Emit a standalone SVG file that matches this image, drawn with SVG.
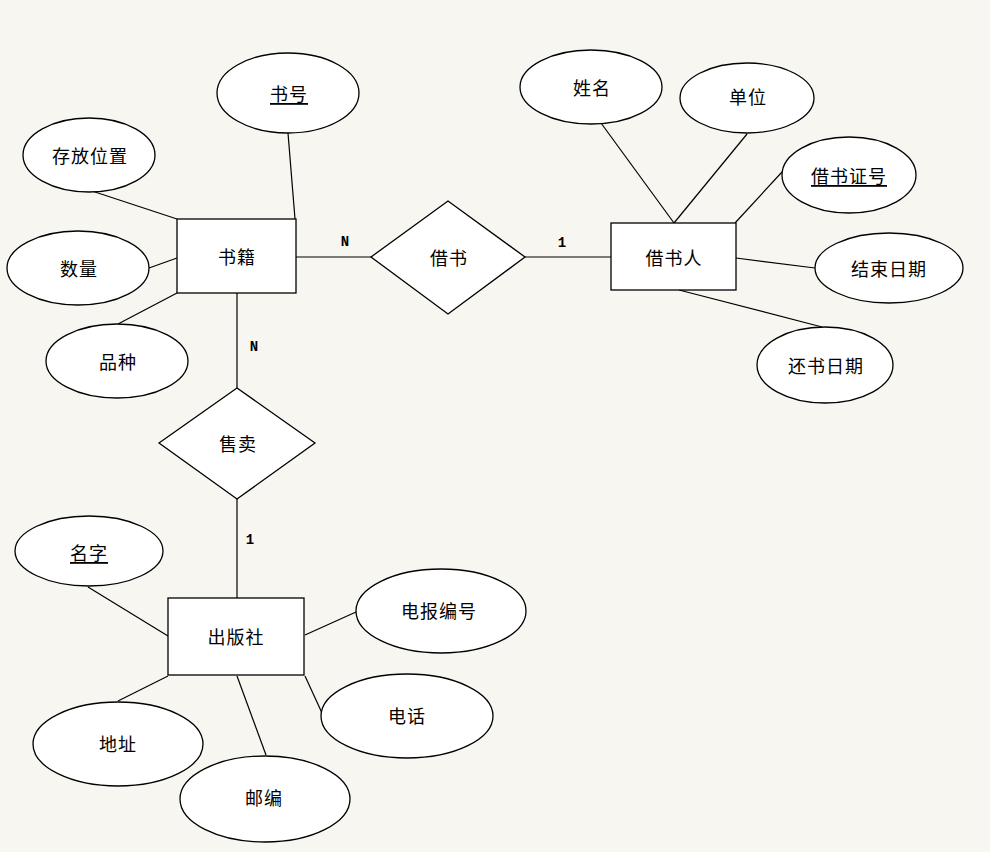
<svg xmlns="http://www.w3.org/2000/svg" width="990" height="852" viewBox="0 0 990 852">
<style>
.bg{fill:#f8f6f0}
.sh{fill:#ffffff;stroke:#000;stroke-width:1.3}
.ln{stroke:#000;stroke-width:1.2;fill:none}
.t{font-family:"Noto Sans CJK SC","Noto Sans",sans-serif;font-size:18px;letter-spacing:1px;fill:#000;text-anchor:middle;dominant-baseline:central}
.u{text-decoration:underline}
.c{font-family:"Liberation Mono",monospace;font-size:14px;font-weight:bold;fill:#000;text-anchor:middle;dominant-baseline:central}
</style>
<rect class="bg" x="0" y="0" width="990" height="852"/>
<g id="connectors">
<line class="ln" x1="288" y1="133" x2="295" y2="219"/>
<line class="ln" x1="92" y1="191" x2="177" y2="219"/>
<line class="ln" x1="149" y1="268" x2="177" y2="258"/>
<line class="ln" x1="118" y1="324" x2="177" y2="293"/>
<line class="ln" x1="296" y1="257" x2="371" y2="257"/>
<line class="ln" x1="525" y1="257" x2="611" y2="257"/>
<line class="ln" x1="601" y1="123" x2="674" y2="223"/>
<line class="ln" x1="747" y1="134" x2="674" y2="223"/>
<line class="ln" x1="782" y1="172" x2="735" y2="223"/>
<line class="ln" x1="736" y1="258" x2="815" y2="268"/>
<line class="ln" x1="679" y1="290" x2="822" y2="327"/>
<line class="ln" x1="237" y1="293" x2="237" y2="388"/>
<line class="ln" x1="237" y1="499" x2="237" y2="598"/>
<line class="ln" x1="88" y1="587" x2="168" y2="636"/>
<line class="ln" x1="305" y1="635" x2="356" y2="612"/>
<line class="ln" x1="305" y1="676" x2="322" y2="713"/>
<line class="ln" x1="168" y1="676" x2="118" y2="701"/>
<line class="ln" x1="237" y1="676" x2="266" y2="755"/>
<text class="c" x="345" y="242">N</text>
<text class="c" x="562" y="243">1</text>
<text class="c" x="254" y="347">N</text>
<text class="c" x="250" y="540">1</text>
</g>
<g id="n_shuji"><rect class="sh" x="177" y="219" width="119" height="74"/><text class="t" x="237" y="256">书籍</text></g>
<g id="n_shuhao"><ellipse class="sh" cx="288" cy="93" rx="71" ry="40"/><text class="t u" x="289" y="93">书号</text></g>
<g id="n_cunfang"><ellipse class="sh" cx="89" cy="155" rx="66" ry="37"/><text class="t" x="90" y="155">存放位置</text></g>
<g id="n_shuliang"><ellipse class="sh" cx="78" cy="268" rx="71" ry="37"/><text class="t" x="79" y="268">数量</text></g>
<g id="n_pinzhong"><ellipse class="sh" cx="117" cy="361" rx="71" ry="37"/><text class="t" x="118" y="361">品种</text></g>
<g id="n_jieshu"><polygon class="sh" points="371,257 448,201 525,257 448,314"/><text class="t" x="449" y="257">借书</text></g>
<g id="n_jieshuren"><rect class="sh" x="611" y="223" width="125" height="67"/><text class="t" x="674" y="257">借书人</text></g>
<g id="n_xingming"><ellipse class="sh" cx="591" cy="87" rx="71" ry="37"/><text class="t" x="592" y="87">姓名</text></g>
<g id="n_danwei"><ellipse class="sh" cx="747" cy="98" rx="67" ry="35"/><text class="t" x="748" y="96">单位</text></g>
<g id="n_zhenghao"><ellipse class="sh" cx="849" cy="175" rx="67" ry="38"/><text class="t u" x="849" y="175">借书证号</text></g>
<g id="n_jieshuriqi"><ellipse class="sh" cx="889" cy="268" rx="74" ry="35"/><text class="t" x="889" y="268">结束日期</text></g>
<g id="n_huanshu"><ellipse class="sh" cx="825" cy="365" rx="68" ry="38"/><text class="t" x="826" y="365">还书日期</text></g>
<g id="n_shoumai"><polygon class="sh" points="159,443 237,388 315,443 237,499"/><text class="t" x="238" y="443">售卖</text></g>
<g id="n_chubanshe"><rect class="sh" x="168" y="598" width="136" height="77"/><text class="t" x="236" y="636">出版社</text></g>
<g id="n_mingzi"><ellipse class="sh" cx="89" cy="551" rx="74" ry="35"/><text class="t u" x="89" y="552">名字</text></g>
<g id="n_dianbao"><ellipse class="sh" cx="441" cy="611" rx="85" ry="42"/><text class="t" x="439" y="610">电报编号</text></g>
<g id="n_dianhua"><ellipse class="sh" cx="407" cy="716" rx="86" ry="42"/><text class="t" x="407" y="715">电话</text></g>
<g id="n_dizhi"><ellipse class="sh" cx="118" cy="744" rx="85" ry="42"/><text class="t" x="118" y="743">地址</text></g>
<g id="n_youbian"><ellipse class="sh" cx="265" cy="799" rx="85" ry="43"/><text class="t" x="264" y="797">邮编</text></g>
</svg>
